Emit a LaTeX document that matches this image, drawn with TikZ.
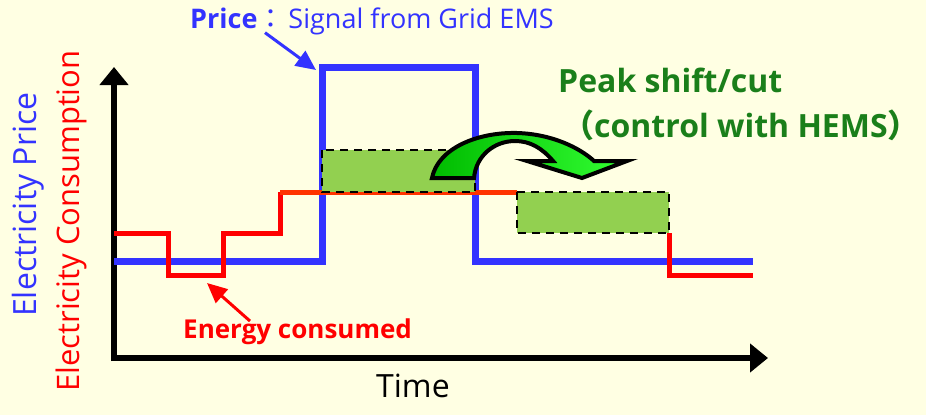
\documentclass[tikz,border=0pt]{standalone}
\usepackage{fontspec}
\setmainfont{Open Sans}
\newfontfamily\cjkfont{Noto Sans CJK JP}
\usepackage{tikz}
\usetikzlibrary{arrows.meta}

\definecolor{bgcream}{HTML}{FFFFE3}
\definecolor{priceblue}{HTML}{3333FF}
\definecolor{consred}{HTML}{FF0000}
\definecolor{midred}{HTML}{FF3300}
\definecolor{peakgreen}{HTML}{1A7F1A}
\definecolor{boxgreen}{HTML}{92D050}
\definecolor{arrowdark}{HTML}{00BB00}
\definecolor{arrowlight}{HTML}{33FF33}

\begin{document}
\begin{tikzpicture}[x=1pt,y=-1pt,
  axis/.style={line width=6pt,-{Triangle[width=28pt,length=18pt]}},
  pricecurve/.style={priceblue,line width=7pt},
  conscurve/.style={consred,line width=5pt},
  shiftbox/.style={fill=boxgreen,draw=black,line width=2.5pt,dash pattern=on 8pt off 6pt},
  pointer/.style={line width=3pt,-{Triangle[width=18pt,length=20pt]}},
  lbl/.style={inner sep=0pt,anchor=base west}]
  \useasboundingbox (0,0) rectangle (926,415);
  \fill[bgcream] (0,0) rectangle (926,415);
  % axes
  \coordinate (origin) at (114,358);
  \draw[axis] (114,361) -- (114,67);
  \draw[axis] (111,358) -- (768,358);
  % price signal from the grid
  \draw[pricecurve] (114,261) -- (322,261) -- (322,67) -- (475,67) -- (475,261) -- (753,261);
  % consumption, before and after the shift
  \draw[conscurve] (114,233) -- (168,233) -- (168,275) -- (223,275) -- (223,233) -- (280,233) -- (280,192);
  \draw[midred,line width=5pt] (280,192) -- (517,192);
  \draw[conscurve] (669,233) -- (669,275) -- (753,275);
  % shifted energy
  \draw[shiftbox] (322,150) rectangle (475,192);
  \draw[shiftbox] (517,192) rectangle (669,233);
  % curved shift arrow
  \draw[line width=4pt,line join=miter,left color=arrowdark,right color=arrowlight]
    (432,178) .. controls (438,148) and (478,132) .. (517,133)
    .. controls (552,134) and (580,148) .. (594,161)
    -- (627,161) -- (582,178) -- (527,161) -- (553,161)
    .. controls (542,148) and (530,141) .. (515,141)
    .. controls (495,141) and (476,155) .. (474,178) -- cycle;
  % labels
  \node[lbl,text=priceblue,font=\fontsize{27}{32}\selectfont] (price) at (190,28)
    {\textbf{Price}{\cjkfont ：}\hspace{4pt}Signal from Grid EMS};
  \coordinate (pricetip) at (316,70);
  \draw[pointer,priceblue] ([xshift=75pt,yshift=2pt]price.south west) -- (pricetip);
  \node[lbl,text=peakgreen,font=\bfseries\fontsize{32}{38}\selectfont] (peak) at (558,92) {Peak shift/cut};
  \node[lbl,text=peakgreen,font=\bfseries\fontsize{32}{38}\selectfont] (hems) at (562,137)
    {{\cjkfont （}control with HEMS{\cjkfont ）\hspace{-0.5em}}};
  \node[lbl,text=consred,font=\bfseries\fontsize{26}{31}\selectfont] (energy) at (183,338) {Energy consumed};
  \coordinate (energytip) at (207,283);
  \draw[pointer,consred] ([xshift=67pt,yshift=-3pt]energy.north west) -- (energytip);
  \node[lbl,font=\fontsize{32}{38}\selectfont] (time) at (376,397) {Time};
  \node[lbl,rotate=90,text=priceblue,font=\fontsize{32}{38}\selectfont] (ylabprice) at (36,317) {Electricity Price};
  \node[lbl,rotate=90,text=consred,font=\fontsize{31}{37}\selectfont] (ylabcons) at (79,392) {Electricity Consumption};
\end{tikzpicture}
\end{document}
